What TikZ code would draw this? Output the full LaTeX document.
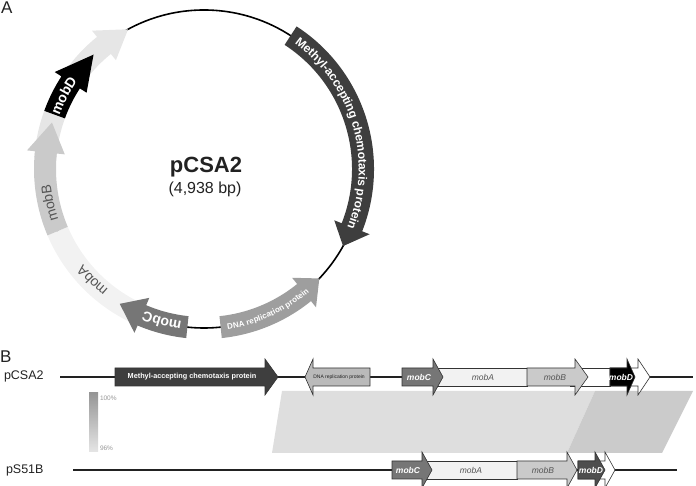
\documentclass[tikz,border=0pt]{standalone}
\usepackage{fontspec}
\setmainfont{Liberation Sans}
\usetikzlibrary{decorations.text}
\definecolor{mcpgray}{RGB}{62,62,62}
\definecolor{repgray}{RGB}{158,158,158}
\definecolor{replgray}{RGB}{186,186,186}
\definecolor{mobcgray}{RGB}{118,118,118}
\definecolor{mobagray}{RGB}{242,242,242}
\definecolor{mobbgray}{RGB}{202,202,202}
\definecolor{tailgray}{RGB}{230,230,230}
\definecolor{mobdgray}{RGB}{78,78,78}
\definecolor{idlight}{RGB}{222,222,222}
\definecolor{iddark}{RGB}{203,203,203}
\definecolor{labelgray}{RGB}{34,34,34}
\definecolor{namegray}{RGB}{85,85,85}
\definecolor{scalegray}{RGB}{150,150,150}

% circular map: start, head base, tip, colour
\newcommand{\cgene}[4]{\fill[#4] (#1:170) arc[start angle=#1, end angle=#2, radius=170] -- (#2:178) -- (#3:159) -- (#2:140) -- (#2:148) arc[start angle=#2, end angle=#1, radius=148] -- cycle;}
\newcommand{\cband}[3]{\fill[#3] (#1:170) arc[start angle=#1, end angle=#2, radius=170] -- (#2:148) arc[start angle=#2, end angle=#1, radius=148] -- cycle;}
% text on the ring: start, end, colour, raise, font, text
\newcommand{\ctext}[6]{\path[decorate, decoration={text along path, text={|#5|#6}, text align=center, text color=#3, raise=#4}] (#1:159) arc[start angle=#1, end angle=#2, radius=159];}
% linear map: start, head base, tip, y, colour
\newcommand{\lgene}[5]{\filldraw[lgene, fill=#5] (#1,#4+9) -- (#2,#4+9) -- (#2,#4+18) -- (#3,#4) -- (#2,#4-18) -- (#2,#4-9) -- (#1,#4-9) -- cycle;}

\begin{document}
\begin{tikzpicture}[x=1bp,y=1bp,inner sep=0pt,outer sep=0pt,
  backbone/.style={draw=labelgray, line width=1.3bp},
  lgene/.style={draw=black!80, line width=0.6bp},
  ring/.style={circle, draw=black, line width=1.6bp, minimum size=318bp}]
  \useasboundingbox (0,0) rectangle (696,486);

  % A: circular map
  \node[anchor=north west] (panelA) at (1,484) {{\fontsize{17bp}{20bp}\selectfont \textcolor{labelgray}{A}}};
  \node[ring] (plasmid) at (204,317) {};
  \begin{scope}[shift={(plasmid.center)}]
    \cband{-110}{-157}{mobagray}
    \cband{-184}{-201}{tailgray}
    \cgene{-210}{-231}{-241.5}{tailgray}
    \cgene{57}{-21.5}{-29}{mcpgray}
    \cgene{-84}{-51}{-43.5}{repgray}
    \cgene{-96}{-113}{-122}{mobcgray}
    \cgene{-157}{-186}{-197}{mobbgray}
    \cgene{-200}{-213}{-226}{black}
    \ctext{57}{-25}{white}{-4.3bp}{\fontsize{12bp}{14bp}\selectfont\bfseries}{Methyl-accepting chemotaxis protein}
    \ctext{-84}{-47}{white}{-2.9bp}{\fontsize{8bp}{10bp}\selectfont\bfseries}{DNA replication protein}
    \ctext{-96}{-115}{white}{-5bp}{\fontsize{14bp}{16bp}\selectfont\bfseries}{mobC}
    \ctext{-113}{-157}{namegray}{-5bp}{\fontsize{14bp}{16bp}\selectfont}{mobA}
    \ctext{-157}{-178}{namegray}{-5bp}{\fontsize{14bp}{16bp}\selectfont}{mobB}
    \ctext{-199}{-216}{white}{-5bp}{\fontsize{14bp}{16bp}\selectfont\bfseries}{mobD}
  \end{scope}
  \node (ringname) at (206,319) {{\fontsize{22bp}{26bp}\selectfont\bfseries \textcolor{labelgray}{pCSA2}}};
  \node (ringsize) at (205,297) {{\fontsize{16bp}{19bp}\selectfont \textcolor{labelgray}{(4,938 bp)}}};

  % B: linear comparison
  \node[anchor=north west] (panelB) at (0,135) {{\fontsize{17bp}{20bp}\selectfont \textcolor{labelgray}{B}}};
  \node[anchor=west] (topname) at (4,110) {{\fontsize{12.5bp}{15bp}\selectfont \textcolor{labelgray}{pCSA2}}};
  \node[anchor=west] (botname) at (6,16) {{\fontsize{12.5bp}{15bp}\selectfont \textcolor{labelgray}{pS51B}}};
  \coordinate (topL) at (60,109);
  \coordinate (topR) at (693,109);
  \coordinate (botL) at (73,16);
  \coordinate (botR) at (677,16);
  \draw[backbone] (topL) -- (topR);
  \draw[backbone] (botL) -- (botR);

  \fill[idlight] (282,95) -- (595,95) -- (567,33) -- (272,33) -- cycle;
  \fill[iddark] (595,95) -- (693,95) -- (662,33) -- (567,33) -- cycle;
  \shade[top color=scalegray, bottom color=black!10] (89,93) rectangle (98,34);
  \node[anchor=west] (scaletop) at (100,88) {{\fontsize{6.5bp}{8bp}\selectfont \textcolor{scalegray}{100\%}}};
  \node[anchor=west] (scalebot) at (100,38) {{\fontsize{6.5bp}{8bp}\selectfont \textcolor{scalegray}{96\%}}};

  % pCSA2 genes
  \lgene{115}{265}{278}{109}{mcpgray}
  \lgene{370}{313}{305}{109}{replgray}
  \filldraw[lgene, fill=mobagray] (433,100) rectangle (527,118);
  \lgene{402}{433}{443}{109}{mobcgray}
  \filldraw[lgene, fill=white] (570,100) rectangle (610,118);
  \lgene{527}{575}{588}{109}{mobbgray}
  \lgene{610}{638}{650}{109}{white}
  \lgene{610}{627}{635}{109}{black}
  \node (mcpA) at (192,109) {{\fontsize{7.3bp}{9bp}\selectfont\bfseries \textcolor{white}{Methyl-accepting chemotaxis protein}}};
  \node (repA) at (339,109) {{\fontsize{5bp}{6bp}\selectfont \textcolor{labelgray}{DNA replication protein}}};
  \node (mobCA) at (419,109) {{\fontsize{8.5bp}{10bp}\selectfont\bfseries\itshape \textcolor{white}{mobC}}};
  \node (mobAA) at (483,109) {{\fontsize{8.5bp}{10bp}\selectfont\itshape \textcolor{namegray}{mobA}}};
  \node (mobBA) at (555,109) {{\fontsize{8.5bp}{10bp}\selectfont\itshape \textcolor{namegray}{mobB}}};
  \node (mobDA) at (621,109) {{\fontsize{8.5bp}{10bp}\selectfont\bfseries\itshape \textcolor{white}{mobD}}};

  % pS51B genes
  \filldraw[lgene, fill=mobagray] (422,7) rectangle (517,25);
  \lgene{392}{422}{432}{16}{mobcgray}
  \lgene{517}{567}{577}{16}{mobbgray}
  \lgene{578}{605}{615}{16}{white}
  \lgene{578}{595}{605}{16}{mobdgray}
  \node (mobCB) at (408,16) {{\fontsize{8.5bp}{10bp}\selectfont\bfseries\itshape \textcolor{white}{mobC}}};
  \node (mobAB) at (471,16) {{\fontsize{8.5bp}{10bp}\selectfont\itshape \textcolor{namegray}{mobA}}};
  \node (mobBB) at (543,16) {{\fontsize{8.5bp}{10bp}\selectfont\itshape \textcolor{namegray}{mobB}}};
  \node (mobDB) at (591,16) {{\fontsize{8.5bp}{10bp}\selectfont\bfseries\itshape \textcolor{white}{mobD}}};
\end{tikzpicture}
\end{document}
